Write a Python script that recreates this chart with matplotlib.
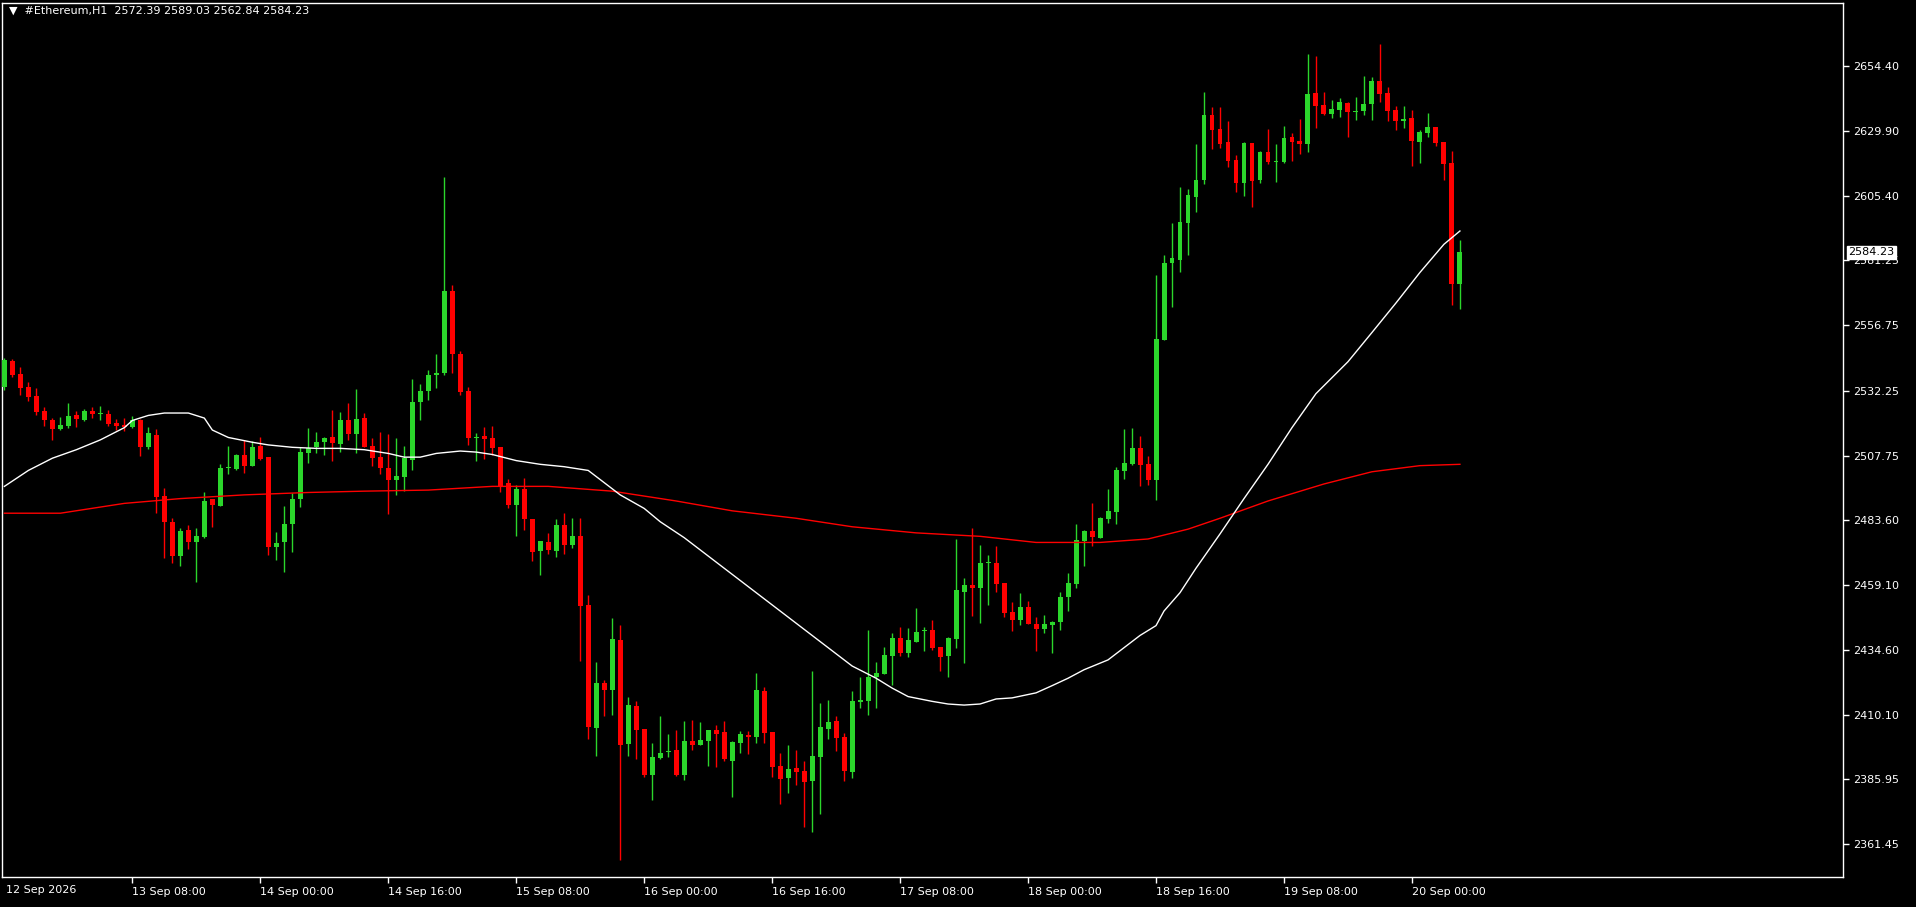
import numpy as np
import matplotlib
matplotlib.use("Agg")
import matplotlib.pyplot as plt

# H1 candles, 12 Sep 16:00 .. 20 Sep 06:00
opens = [
    2533.7, 2543.4, 2538.4, 2533.6, 2530.2, 2524.6, 2521.2, 2517.9, 2519.1, 2523.1,
    2521.2, 2524.6, 2523.3, 2523.6, 2520.0, 2519.2, 2518.4, 2521.2, 2511.1, 2515.5,
    2492.6, 2482.8, 2470.1, 2479.8, 2475.4, 2477.2, 2491.3, 2488.9, 2503.0, 2502.7,
    2508.0, 2504.0, 2511.4, 2507.2, 2473.3, 2475.4, 2482.0, 2491.4, 2508.7, 2511.0,
    2512.9, 2514.8, 2512.2, 2521.2, 2516.0, 2521.9, 2511.4, 2507.1, 2503.1, 2498.6,
    2499.7, 2506.2, 2527.9, 2532.1, 2538.1, 2538.9, 2569.8, 2545.9, 2532.1, 2514.3,
    2515.1, 2514.4, 2510.9, 2497.3, 2489.2, 2495.2, 2483.9, 2471.9, 2475.2, 2471.9,
    2481.6, 2474.1, 2477.5, 2451.5, 2405.4, 2422.2, 2419.7, 2438.3, 2399.2, 2413.5,
    2404.8, 2387.6, 2394.1, 2396.1, 2397.0, 2387.6, 2400.4, 2398.9, 2400.5, 2404.5,
    2403.7, 2393.0, 2399.7, 2402.6, 2402.0, 2419.2, 2403.7, 2390.9, 2386.4, 2390.2,
    2389.0, 2385.3, 2394.4, 2405.0, 2407.9, 2401.9, 2388.8, 2415.1, 2415.4, 2424.5,
    2425.7, 2432.5, 2439.1, 2433.6, 2437.7, 2441.9, 2442.1, 2435.7, 2432.5, 2438.9,
    2456.5, 2459.1, 2458.0, 2467.2, 2467.3, 2459.8, 2448.9, 2446.0, 2450.8, 2444.4,
    2442.6, 2444.1, 2445.2, 2454.6, 2459.6, 2475.7, 2479.4, 2476.9, 2483.9, 2486.5,
    2502.1, 2504.6, 2510.6, 2504.6, 2498.6, 2551.3, 2580.1, 2581.4, 2595.4, 2605.2,
    2611.5, 2635.9, 2630.7, 2625.8, 2619.0, 2610.4, 2625.4, 2611.5, 2622.0, 2618.3,
    2618.3, 2627.7, 2626.2, 2625.2, 2644.2, 2639.7, 2636.3, 2637.9, 2640.5, 2637.0,
    2637.5, 2640.1, 2648.8, 2644.2, 2637.9, 2633.7, 2634.8, 2625.8, 2629.2, 2631.4,
    2625.8, 2617.9, 2572.39,
]
highs = [
    2544.5, 2544.0, 2541.0, 2535.5, 2533.2, 2526.1, 2521.9, 2522.2, 2527.5, 2524.6,
    2525.2, 2526.1, 2526.5, 2524.8, 2521.6, 2522.0, 2522.7, 2521.4, 2518.6, 2517.8,
    2495.5, 2484.2, 2480.5, 2481.6, 2480.5, 2494.0, 2491.5, 2504.5, 2511.4, 2508.2,
    2513.6, 2513.3, 2514.8, 2507.4, 2479.0, 2488.8, 2493.6, 2511.1, 2518.0, 2516.5,
    2514.6, 2524.9, 2524.1, 2527.5, 2532.8, 2523.7, 2514.5, 2516.6, 2515.9, 2514.4,
    2511.4, 2536.6, 2534.7, 2540.0, 2546.0, 2612.5, 2572.0, 2547.0, 2533.5, 2516.1,
    2518.5, 2518.9, 2511.0, 2498.9, 2496.7, 2499.2, 2484.0, 2475.7, 2478.8, 2483.9,
    2486.1, 2484.3, 2484.3, 2455.3, 2430.1, 2423.3, 2446.6, 2444.0, 2416.9, 2415.4,
    2404.9, 2399.6, 2409.9, 2403.1, 2404.6, 2408.0, 2408.4, 2407.6, 2404.6, 2406.5,
    2408.0, 2400.2, 2404.2, 2404.2, 2426.1, 2420.7, 2403.8, 2395.8, 2398.9, 2396.9,
    2392.8, 2426.7, 2414.6, 2415.8, 2409.7, 2403.4, 2419.2, 2424.4, 2442.1, 2430.1,
    2435.7, 2441.2, 2443.1, 2442.8, 2450.6, 2443.1, 2445.9, 2435.9, 2439.5, 2476.4,
    2461.6, 2480.5, 2474.1, 2470.4, 2473.7, 2460.0, 2452.7, 2456.0, 2453.0, 2447.0,
    2447.8, 2445.4, 2456.4, 2463.6, 2482.0, 2479.6, 2489.9, 2484.6, 2495.2, 2503.5,
    2517.8, 2518.2, 2515.2, 2507.6, 2575.7, 2583.2, 2595.3, 2608.9, 2608.1, 2625.0,
    2644.6, 2638.9, 2638.9, 2633.7, 2620.9, 2625.8, 2625.6, 2622.3, 2630.7, 2625.0,
    2631.8, 2629.2, 2634.4, 2658.9, 2658.2, 2644.6, 2641.6, 2642.4, 2640.8, 2642.7,
    2650.6, 2650.3, 2662.7, 2646.5, 2639.3, 2639.3, 2637.8, 2630.3, 2636.7, 2631.5,
    2625.9, 2622.4, 2589.03,
]
lows = [
    2532.6, 2537.5, 2530.4, 2528.5, 2523.1, 2519.1, 2513.7, 2517.6, 2518.3, 2518.7,
    2520.8, 2522.1, 2521.0, 2519.1, 2517.4, 2517.2, 2518.2, 2507.7, 2510.4, 2486.3,
    2469.1, 2467.5, 2466.3, 2472.7, 2460.3, 2476.9, 2481.0, 2488.7, 2500.8, 2502.3,
    2501.3, 2503.8, 2506.3, 2470.3, 2468.5, 2464.1, 2471.6, 2488.5, 2505.1, 2508.9,
    2508.0, 2505.7, 2509.2, 2513.6, 2508.9, 2510.9, 2504.0, 2500.9, 2485.9, 2492.9,
    2494.4, 2502.3, 2521.2, 2528.7, 2533.2, 2538.1, 2538.7, 2530.7, 2511.7, 2505.9,
    2506.5, 2508.0, 2494.2, 2488.2, 2477.6, 2479.8, 2468.1, 2462.8, 2470.7, 2469.7,
    2470.7, 2473.1, 2430.6, 2401.0, 2394.8, 2409.9, 2410.1, 2355.6, 2394.8, 2393.6,
    2386.9, 2378.1, 2393.6, 2394.5, 2387.2, 2385.8, 2397.1, 2398.7, 2391.1, 2390.7,
    2393.0, 2379.4, 2395.9, 2395.6, 2399.7, 2399.7, 2386.9, 2376.8, 2380.9, 2383.9,
    2368.1, 2366.2, 2373.0, 2401.2, 2396.7, 2385.4, 2386.6, 2412.9, 2410.2, 2412.9,
    2425.5, 2421.4, 2432.5, 2432.0, 2437.5, 2434.3, 2434.7, 2426.8, 2424.5, 2435.5,
    2429.6, 2447.5, 2444.9, 2451.6, 2456.5, 2447.1, 2441.9, 2444.1, 2444.3, 2434.3,
    2441.1, 2433.6, 2442.2, 2449.4, 2458.0, 2466.3, 2473.9, 2476.7, 2482.4, 2482.0,
    2498.9, 2504.4, 2496.3, 2496.7, 2491.1, 2551.1, 2563.8, 2577.0, 2583.2, 2599.6,
    2610.1, 2623.3, 2623.6, 2616.5, 2607.0, 2605.6, 2601.4, 2610.4, 2617.5, 2610.7,
    2617.9, 2618.6, 2621.3, 2622.0, 2631.1, 2636.1, 2634.8, 2635.2, 2627.7, 2634.1,
    2635.9, 2634.1, 2640.8, 2633.7, 2630.3, 2631.1, 2616.8, 2617.9, 2627.7, 2624.3,
    2611.5, 2564.4, 2562.84,
]
closes = [
    2543.8, 2538.1, 2533.4, 2530.0, 2524.3, 2521.0, 2517.9, 2519.3, 2522.7, 2521.5,
    2524.6, 2523.6, 2523.6, 2519.8, 2518.9, 2518.4, 2521.2, 2511.2, 2516.3, 2492.3,
    2482.9, 2470.1, 2479.4, 2475.4, 2477.5, 2490.7, 2489.2, 2503.0, 2503.4, 2508.0,
    2504.0, 2511.0, 2506.5, 2473.5, 2474.9, 2482.0, 2491.4, 2509.2, 2510.7, 2512.9,
    2514.4, 2512.5, 2521.2, 2516.0, 2521.5, 2511.1, 2507.0, 2503.1, 2498.6, 2500.1,
    2506.7, 2527.9, 2532.1, 2538.1, 2538.9, 2569.8, 2545.9, 2531.8, 2514.5, 2514.7,
    2514.0, 2510.7, 2496.4, 2489.2, 2495.2, 2483.9, 2471.6, 2475.6, 2472.2, 2481.6,
    2474.1, 2477.5, 2451.3, 2405.6, 2422.2, 2419.7, 2438.7, 2398.9, 2413.9, 2404.5,
    2387.6, 2394.3, 2395.8, 2396.6, 2387.6, 2400.4, 2398.9, 2400.7, 2404.5, 2403.1,
    2393.7, 2400.0, 2403.0, 2402.0, 2419.5, 2403.5, 2390.7, 2386.2, 2389.9, 2388.8,
    2385.0, 2394.7, 2405.6, 2407.5, 2401.6, 2389.2, 2415.4, 2415.8, 2424.4, 2425.9,
    2432.7, 2439.1, 2433.6, 2438.4, 2441.4, 2442.2, 2435.5, 2432.1, 2439.1, 2457.2,
    2459.1, 2458.0, 2467.3, 2467.4, 2459.6, 2448.5, 2446.0, 2450.8, 2444.5, 2442.6,
    2444.4, 2445.2, 2454.6, 2459.8, 2476.0, 2479.4, 2477.1, 2484.4, 2486.9, 2502.3,
    2505.0, 2510.6, 2504.2, 2498.6, 2551.6, 2580.1, 2582.1, 2595.7, 2605.8, 2611.5,
    2635.9, 2630.4, 2625.2, 2618.8, 2610.4, 2625.4, 2611.1, 2622.0, 2618.3, 2618.5,
    2627.3, 2625.9, 2625.2, 2643.9, 2639.4, 2636.3, 2638.2, 2640.8, 2637.2, 2637.5,
    2640.1, 2648.8, 2643.9, 2637.5, 2633.7, 2634.4, 2626.2, 2629.6, 2631.4, 2625.4,
    2617.5, 2572.3, 2584.23,
]

# moving averages (bar index, price)
ma_fast_idx = [0, 3, 6, 9, 12, 15, 16, 18, 20, 23, 25, 26, 28, 31, 33, 36, 39, 42, 45, 48,
               50, 52, 54, 57, 59, 61, 64, 67, 70, 73, 75, 77, 80, 82, 85, 88, 91, 94, 97, 100,
               103, 106, 109, 111, 113, 116, 118, 120, 122, 124, 126, 129, 131, 133, 135, 138,
               140, 142, 144, 145, 147, 149, 152, 155, 158, 161, 164, 168, 171, 174, 177, 180, 182]
ma_fast = [2496.2, 2502.2, 2506.8, 2510.0, 2513.7, 2518.3, 2521.0, 2522.9, 2523.8, 2523.8,
           2521.9, 2517.4, 2514.6, 2512.8, 2511.8, 2510.9, 2510.5, 2510.5, 2510.0, 2508.6,
           2507.2, 2507.2, 2508.6, 2509.5, 2509.1, 2508.2, 2505.9, 2504.5, 2503.6, 2502.2,
           2497.6, 2493.0, 2487.9, 2482.9, 2476.9, 2470.0, 2463.1, 2456.2, 2449.3, 2442.4,
           2435.5, 2428.6, 2424.0, 2420.3, 2417.1, 2415.3, 2414.3, 2413.9, 2414.3, 2416.2,
           2416.6, 2418.5, 2421.2, 2424.0, 2427.2, 2430.9, 2435.5, 2440.1, 2443.8, 2449.3,
           2456.2, 2465.4, 2478.3, 2491.6, 2504.5, 2518.3, 2531.1, 2543.1, 2554.1, 2565.2,
           2576.7, 2587.3, 2592.3]
ma_slow_idx = [0, 7, 15, 22, 30, 38, 45, 53, 61, 68, 76, 84, 91, 99, 106, 114, 122, 129, 137,
               143, 148, 152, 158, 165, 171, 177, 182]
ma_slow = [2486.1, 2486.1, 2489.8, 2491.6, 2493.0, 2493.9, 2494.4, 2494.8, 2496.2, 2496.2,
           2494.4, 2490.7, 2487.0, 2484.2, 2481.0, 2478.7, 2477.4, 2475.1, 2475.1, 2476.4,
           2480.1, 2484.2, 2490.7, 2497.1, 2501.7, 2504.0, 2504.5]

price_ticks = [2654.40, 2629.90, 2605.40, 2581.25, 2556.75, 2532.25, 2507.75, 2483.60,
               2459.10, 2434.60, 2410.10, 2385.95, 2361.45]
time_tick_idx = [16, 32, 48, 64, 80, 96, 112, 128, 144, 160, 176]
time_tick_labels = ["13 Sep 08:00", "14 Sep 00:00", "14 Sep 16:00", "15 Sep 08:00",
                    "16 Sep 00:00", "16 Sep 16:00", "17 Sep 08:00", "18 Sep 00:00",
                    "18 Sep 16:00", "19 Sep 08:00", "20 Sep 00:00"]

UP = "#2bd62b"
DOWN = "#ff0000"
FG = "white"

fig = plt.figure(figsize=(19.16, 9.07), dpi=100, facecolor="black")
ax = fig.add_axes([2 / 1916, 30 / 907, 1841 / 1916, 874 / 907])
ax.set_facecolor("black")
ax.set_xlim(-0.3, 229.9)
ax.set_ylim(2349.2, 2678.1)

o = np.array(opens)
c = np.array(closes)
x = np.arange(len(o))
col = np.where(c >= o, UP, DOWN)

ax.vlines(x, lows, highs, colors=col, linewidth=1.0, zorder=2)
bottoms = np.minimum(o, c)
heights = np.maximum(np.abs(c - o), 0.4)
ax.bar(x, heights, bottom=bottoms, width=0.62, color=col, linewidth=0, zorder=3)

ax.plot(ma_slow_idx, ma_slow, color="#ff0000", linewidth=1.0, zorder=4)
ax.plot(ma_fast_idx, ma_fast, color="white", linewidth=1.0, zorder=4)

for s in ax.spines.values():
    s.set_color(FG)
    s.set_linewidth(1.0)

ax.yaxis.tick_right()
ax.set_yticks(price_ticks)
ax.set_yticklabels([f"{v:.2f}" for v in price_ticks])
ax.tick_params(axis="y", colors=FG, labelsize=8, length=4, width=1, pad=3)

ax.set_xticks(time_tick_idx)
ax.set_xticklabels(time_tick_labels, ha="left")
ax.tick_params(axis="x", colors=FG, labelsize=8, length=4, width=1, pad=3)
fig.text(6 / 1916, 1 - 885 / 907, "12 Sep 2026", color=FG, fontsize=8, va="top", ha="left")

last = closes[-1]
ax.text(1.003, last, f"{last:.2f}", transform=ax.get_yaxis_transform(), color="black",
        fontsize=8, va="center", ha="left", zorder=10, clip_on=False,
        bbox=dict(boxstyle="square,pad=0.15", facecolor="white", edgecolor="white"))

ax.text(0.004, 0.997, "\u25bc  #Ethereum,H1  2572.39 2589.03 2562.84 2584.23",
        transform=ax.transAxes, color=FG, fontsize=8, va="top", ha="left")

fig.savefig("out.png", dpi=100, facecolor="black")
